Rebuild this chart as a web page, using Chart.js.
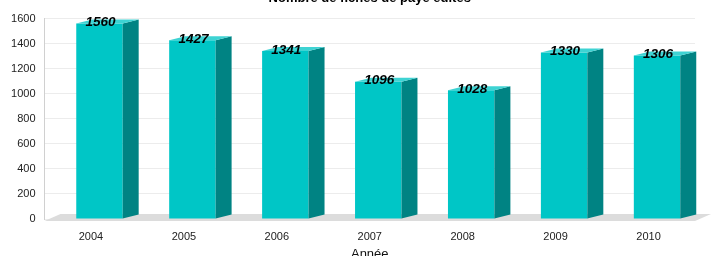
<!DOCTYPE html>
<html>
<head>
<meta charset="utf-8">
<script src="https://cdn.jsdelivr.net/npm/chart.js@4/dist/chart.umd.min.js"></script>
<style>
  html, body { margin: 0; padding: 0; background: #fff; }
  #wrap { width: 711px; height: 256px; }
</style>
</head>
<body>
<div id="wrap"><canvas id="myChart" width="711" height="256"></canvas></div>
<script>
// values
var years = ['2004', '2005', '2006', '2007', '2008', '2009', '2010'];
var counts = [1560, 1427, 1341, 1096, 1028, 1330, 1306];
var yMax = 1600;
var yStep = 200;
var chartTitle = 'Nombre de fiches de paye édités';
var axisTitle = 'Année';

// empty series, only used so the real bars sit a bit right of each label
var spacer = years.map(function() { return null; });

var DX = 16, DY = 4;

// grey floor under the bars
var floorPlugin = {
    id: 'floor',
    beforeDatasetsDraw: function(chart) {
        var a = chart.chartArea, c = chart.ctx;
        c.save();
        c.fillStyle = '#dcdcdc';
        c.beginPath();
        c.moveTo(a.left, a.bottom + 2);
        c.lineTo(a.right, a.bottom + 2);
        c.lineTo(a.right + DX, a.bottom - 5);
        c.lineTo(a.left + DX, a.bottom - 5);
        c.closePath();
        c.fill();
        c.restore();
    }
};

// side and top faces + value labels
var boxPlugin = {
    id: 'box3d',
    afterDatasetsDraw: function(chart) {
        var c = chart.ctx;
        var meta = chart.getDatasetMeta(1);
        c.save();
        meta.data.forEach(function(bar, i) {
            var p = bar.getProps(['x', 'y', 'base', 'width'], true);
            var x0 = p.x - p.width / 2, x1 = p.x + p.width / 2;
            c.fillStyle = '#008383';
            c.beginPath();
            c.moveTo(x1, p.y);
            c.lineTo(x1 + DX, p.y - DY);
            c.lineTo(x1 + DX, p.base - DY);
            c.lineTo(x1, p.base);
            c.closePath();
            c.fill();
            c.fillStyle = '#3ed3d3';
            c.beginPath();
            c.moveTo(x0, p.y);
            c.lineTo(x0 + DX, p.y - DY);
            c.lineTo(x1 + DX, p.y - DY);
            c.lineTo(x1, p.y);
            c.closePath();
            c.fill();

            c.fillStyle = '#000';
            c.font = 'italic bold 13.5px Arial, "Liberation Sans", sans-serif';
            c.textAlign = 'center';
            c.textBaseline = 'middle';
            c.fillText(String(counts[i]), p.x + 1, p.y - 1);
        });
        c.restore();
    }
};

var ctx = document.getElementById('myChart').getContext('2d');
var myChart = new Chart(ctx, {
    type: 'bar',
    data: {
        labels: years,
        datasets: [{
            label: 'spacer',
            data: spacer
        }, {
            label: chartTitle,
            data: counts,
            backgroundColor: '#00c6c6',
            borderWidth: 0
        }]
    },
    options: {
        responsive: false,
        animation: false,
        categoryPercentage: 0.366,
        barPercentage: 2.73,
        layout: { padding: { left: 0, right: 16, top: 0.5, bottom: 0 } },
        plugins: {
            legend: { display: false },
            tooltip: { enabled: false },
            title: {
                display: true,
                text: chartTitle,
                fullSize: false,
                color: '#000',
                font: { family: 'Arial, "Liberation Sans", sans-serif', size: 13, weight: 'bold' },
                padding: { top: -10, bottom: 12.5 }
            }
        },
        scales: {
            x: {
                grid: { display: false, drawTicks: false },
                border: { display: false },
                ticks: {
                    color: '#222',
                    padding: 11,
                    font: { family: 'Arial, "Liberation Sans", sans-serif', size: 11 }
                },
                title: {
                    display: true,
                    text: axisTitle,
                    color: '#111',
                    font: { family: 'Arial, "Liberation Sans", sans-serif', size: 13 },
                    padding: { top: 0, bottom: -6.5 }
                },
                afterFit: function(scale) { scale.height = 37; }
            },
            y: {
                min: 0,
                max: yMax,
                grid: { color: '#ececec', drawTicks: false },
                border: { display: true, color: '#d0d0d0' },
                ticks: {
                    stepSize: yStep,
                    color: '#222',
                    padding: 9,
                    font: { family: 'Arial, "Liberation Sans", sans-serif', size: 11 },
                    callback: function(v) { return String(v); }
                },
                afterFit: function(scale) { scale.width = 44.5; }
            }
        }
    },
    plugins: [floorPlugin, boxPlugin]
});
</script>
</body>
</html>
